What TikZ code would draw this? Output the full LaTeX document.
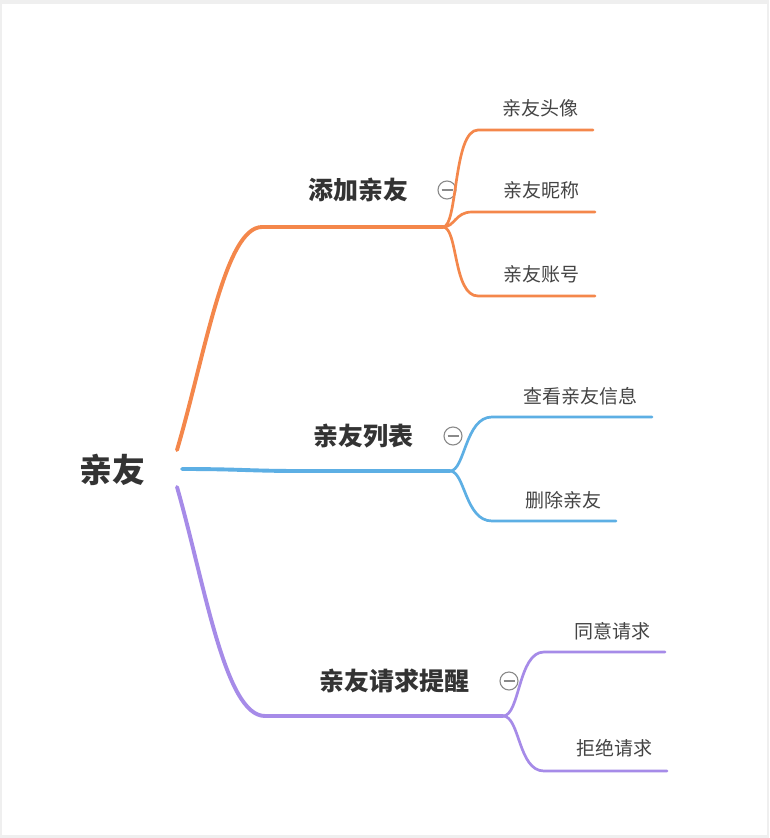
\documentclass[tikz,border=0pt]{standalone}
\usepackage{fontspec}
\setmainfont{Noto Sans CJK SC}
\definecolor{cOrange}{HTML}{F4874B}
\definecolor{cBlue}{HTML}{5DAFE4}
\definecolor{cPurple}{HTML}{A68BE8}
\definecolor{cText}{HTML}{333333}
\definecolor{cSub}{HTML}{444444}
\definecolor{cFrame}{HTML}{EFEFEF}
\definecolor{cCirc}{HTML}{8A8A8A}
\begin{document}
\begin{tikzpicture}[x=1pt,y=-1pt,
  rootlabel/.style={font=\fontsize{33}{33}\selectfont\bfseries, text=cText, inner sep=0pt},
  mainlabel/.style={font=\fontsize{25}{25}\selectfont\bfseries, text=cText, inner sep=0pt},
  sublabel/.style={font=\fontsize{19}{19}\selectfont, text=cSub, inner sep=0pt},
  mainline/.style={line width=3.9pt, line cap=round},
  subline/.style={line width=2.7pt, line cap=round},
  collapse/.style={circle, draw=cCirc, line width=1.1pt, minimum size=18pt, inner sep=0pt,
    path picture={\draw[cCirc, line width=1.1pt] ([xshift=-5.5pt]path picture bounding box.center) -- ([xshift=5.5pt]path picture bounding box.center);}}
]
\useasboundingbox (0,0) rectangle (769,838);
\fill[cFrame] (0,0) rectangle (769,838);
\fill[white] (2,4) rectangle (767,835);

% root
\node[rootlabel] (root) at (112,470) {亲友};
\coordinate (rO) at (177,450);
\coordinate (rB) at (182,469);
\coordinate (rP) at (177,487);

% branch junctions
\coordinate (jO) at (443,227);
\coordinate (jB) at (450,471);
\coordinate (jP) at (503,716);

% main branches
\draw[mainline, cOrange] (rO) .. controls (205,355) and (225,227) .. (262,227) -- (jO);
\draw[mainline, cBlue] (rB) .. controls (240,469) and (250,471) .. (300,471) -- (jB);
\draw[mainline, cPurple] (rP) .. controls (205,585) and (225,716) .. (265,716) -- (jP);

% main labels
\node[mainlabel] (add) at (358,190) {添加亲友};
\node[mainlabel] (list) at (363,436) {亲友列表};
\node[mainlabel] (req) at (394,681) {亲友请求提醒};

\node[collapse] (cO) at (447,190) {};
\node[collapse] (cB) at (453,436) {};
\node[collapse] (cP) at (509,681) {};

% orange children
\coordinate (o1) at (593,130);
\coordinate (o2) at (595,212);
\coordinate (o3) at (595,296);
\draw[subline, cOrange] (jO) .. controls (458,227) and (453,130) .. (478,130) -- (o1);
\draw[subline, cOrange] (jO) .. controls (455,227) and (455,212) .. (472,212) -- (o2);
\draw[subline, cOrange] (jO) .. controls (458,227) and (453,296) .. (478,296) -- (o3);
\node[sublabel] (t1) at (540,108) {亲友头像};
\node[sublabel] (t2) at (541,190) {亲友昵称};
\node[sublabel] (t3) at (541,274) {亲友账号};

% blue children
\coordinate (b1) at (652,417);
\coordinate (b2) at (616,521);
\draw[subline, cBlue] (jB) .. controls (465,471) and (465,417) .. (492,417) -- (b1);
\draw[subline, cBlue] (jB) .. controls (465,471) and (465,521) .. (492,521) -- (b2);
\node[sublabel] (t4) at (580,396) {查看亲友信息};
\node[sublabel] (t5) at (563,500) {删除亲友};

% purple children
\coordinate (p1) at (665,652);
\coordinate (p2) at (667,771);
\draw[subline, cPurple] (jP) .. controls (520,716) and (518,652) .. (544,652) -- (p1);
\draw[subline, cPurple] (jP) .. controls (520,716) and (518,771) .. (544,771) -- (p2);
\node[sublabel] (t6) at (612,631) {同意请求};
\node[sublabel] (t7) at (614,748) {拒绝请求};
\end{tikzpicture}
\end{document}
